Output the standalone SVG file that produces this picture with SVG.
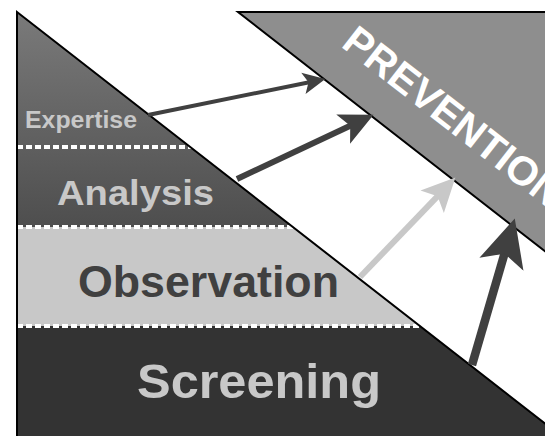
<svg xmlns="http://www.w3.org/2000/svg" width="545" height="436" viewBox="0 0 545 436">
  <style>
    .lbl { font-family: "Liberation Sans", Arial, sans-serif; font-weight: bold; }
    .light { fill: #c8c8c8; }
    .darktxt { fill: #404040; }
    .dots { stroke: #ffffff; stroke-width: 4; stroke-dasharray: 6 3; fill: none; }
    .edge { fill: none; stroke: #000000; stroke-width: 2; }
    .arr { fill: none; stroke-linecap: butt; }
    .arr-dark { stroke: #404040; marker-end: url(#headDark); }
    .arr-light { stroke: #c8c8c8; marker-end: url(#headLight); }
  </style>
  <defs>
    <clipPath id="tri">
      <polygon points="17,12 17,450 579,450"/>
    </clipPath>
    <linearGradient id="topGrad" x1="0" y1="12" x2="0" y2="227" gradientUnits="userSpaceOnUse">
      <stop offset="0" stop-color="#7a7a7a"/>
      <stop offset="1" stop-color="#4e4e4e"/>
    </linearGradient>
    <marker id="headDark" viewBox="0 -3 6 6" refX="1.5" refY="0" markerWidth="6" markerHeight="6" markerUnits="strokeWidth" orient="auto">
      <path d="M0,-2.7 L5.6,0 L0,2.7 L1.3,0 Z" fill="#404040"/>
    </marker>
    <marker id="headLight" viewBox="0 -3 6 6" refX="1.5" refY="0" markerWidth="6" markerHeight="6" markerUnits="strokeWidth" orient="auto">
      <path d="M0,-2.7 L5.6,0 L0,2.7 L1.3,0 Z" fill="#c8c8c8"/>
    </marker>
  </defs>

  <rect x="0" y="0" width="545" height="436" fill="#ffffff"/>

  <g id="prevention">
    <polygon points="238,12 560,12 560,263" fill="#8e8e8e" stroke="#000000" stroke-width="2"/>
    <text class="lbl" x="0" y="0" font-size="41" fill="#ffffff" transform="translate(340,46) rotate(38)">PREVENTION</text>
  </g>

  <g id="pyramid" clip-path="url(#tri)">
    <g id="expertise">
      <rect x="17" y="12" width="600" height="135" fill="url(#topGrad)"/>
    </g>
    <g id="analysis">
      <rect x="17" y="147" width="600" height="80" fill="url(#topGrad)"/>
    </g>
    <g id="observation">
      <rect x="17" y="227" width="600" height="99" fill="#c8c8c8"/>
    </g>
    <g id="screening">
      <rect x="17" y="326" width="600" height="130" fill="#333333"/>
    </g>
    <line class="dots" x1="17" y1="147" x2="300" y2="147"/>
    <line class="dots" x1="17" y1="227" x2="400" y2="227"/>
    <line class="dots" x1="17" y1="326" x2="500" y2="326"/>
  </g>
  <polyline class="edge" points="17,450 17,12 579,450"/>

  <g id="labels">
    <text class="lbl light" x="25" y="128" font-size="23" textLength="112" lengthAdjust="spacingAndGlyphs">Expertise</text>
    <text class="lbl light" x="57" y="205" font-size="35" textLength="157" lengthAdjust="spacingAndGlyphs">Analysis</text>
    <text class="lbl darktxt" x="78" y="297" font-size="44" textLength="261" lengthAdjust="spacingAndGlyphs">Observation</text>
    <text class="lbl light" x="137" y="398" font-size="49" textLength="244" lengthAdjust="spacingAndGlyphs">Screening</text>
  </g>

  <g id="connectors">
    <line class="arr arr-dark" x1="148" y1="115" x2="309.3" y2="82.2" stroke-width="4"/>
    <line class="arr arr-dark" x1="237" y1="179" x2="351.3" y2="125.2" stroke-width="6"/>
    <line class="arr arr-light" x1="360" y1="277" x2="438.4" y2="195.3" stroke-width="6"/>
    <line class="arr arr-dark" x1="472" y1="365" x2="505" y2="252" stroke-width="8.5"/>
  </g>
</svg>
